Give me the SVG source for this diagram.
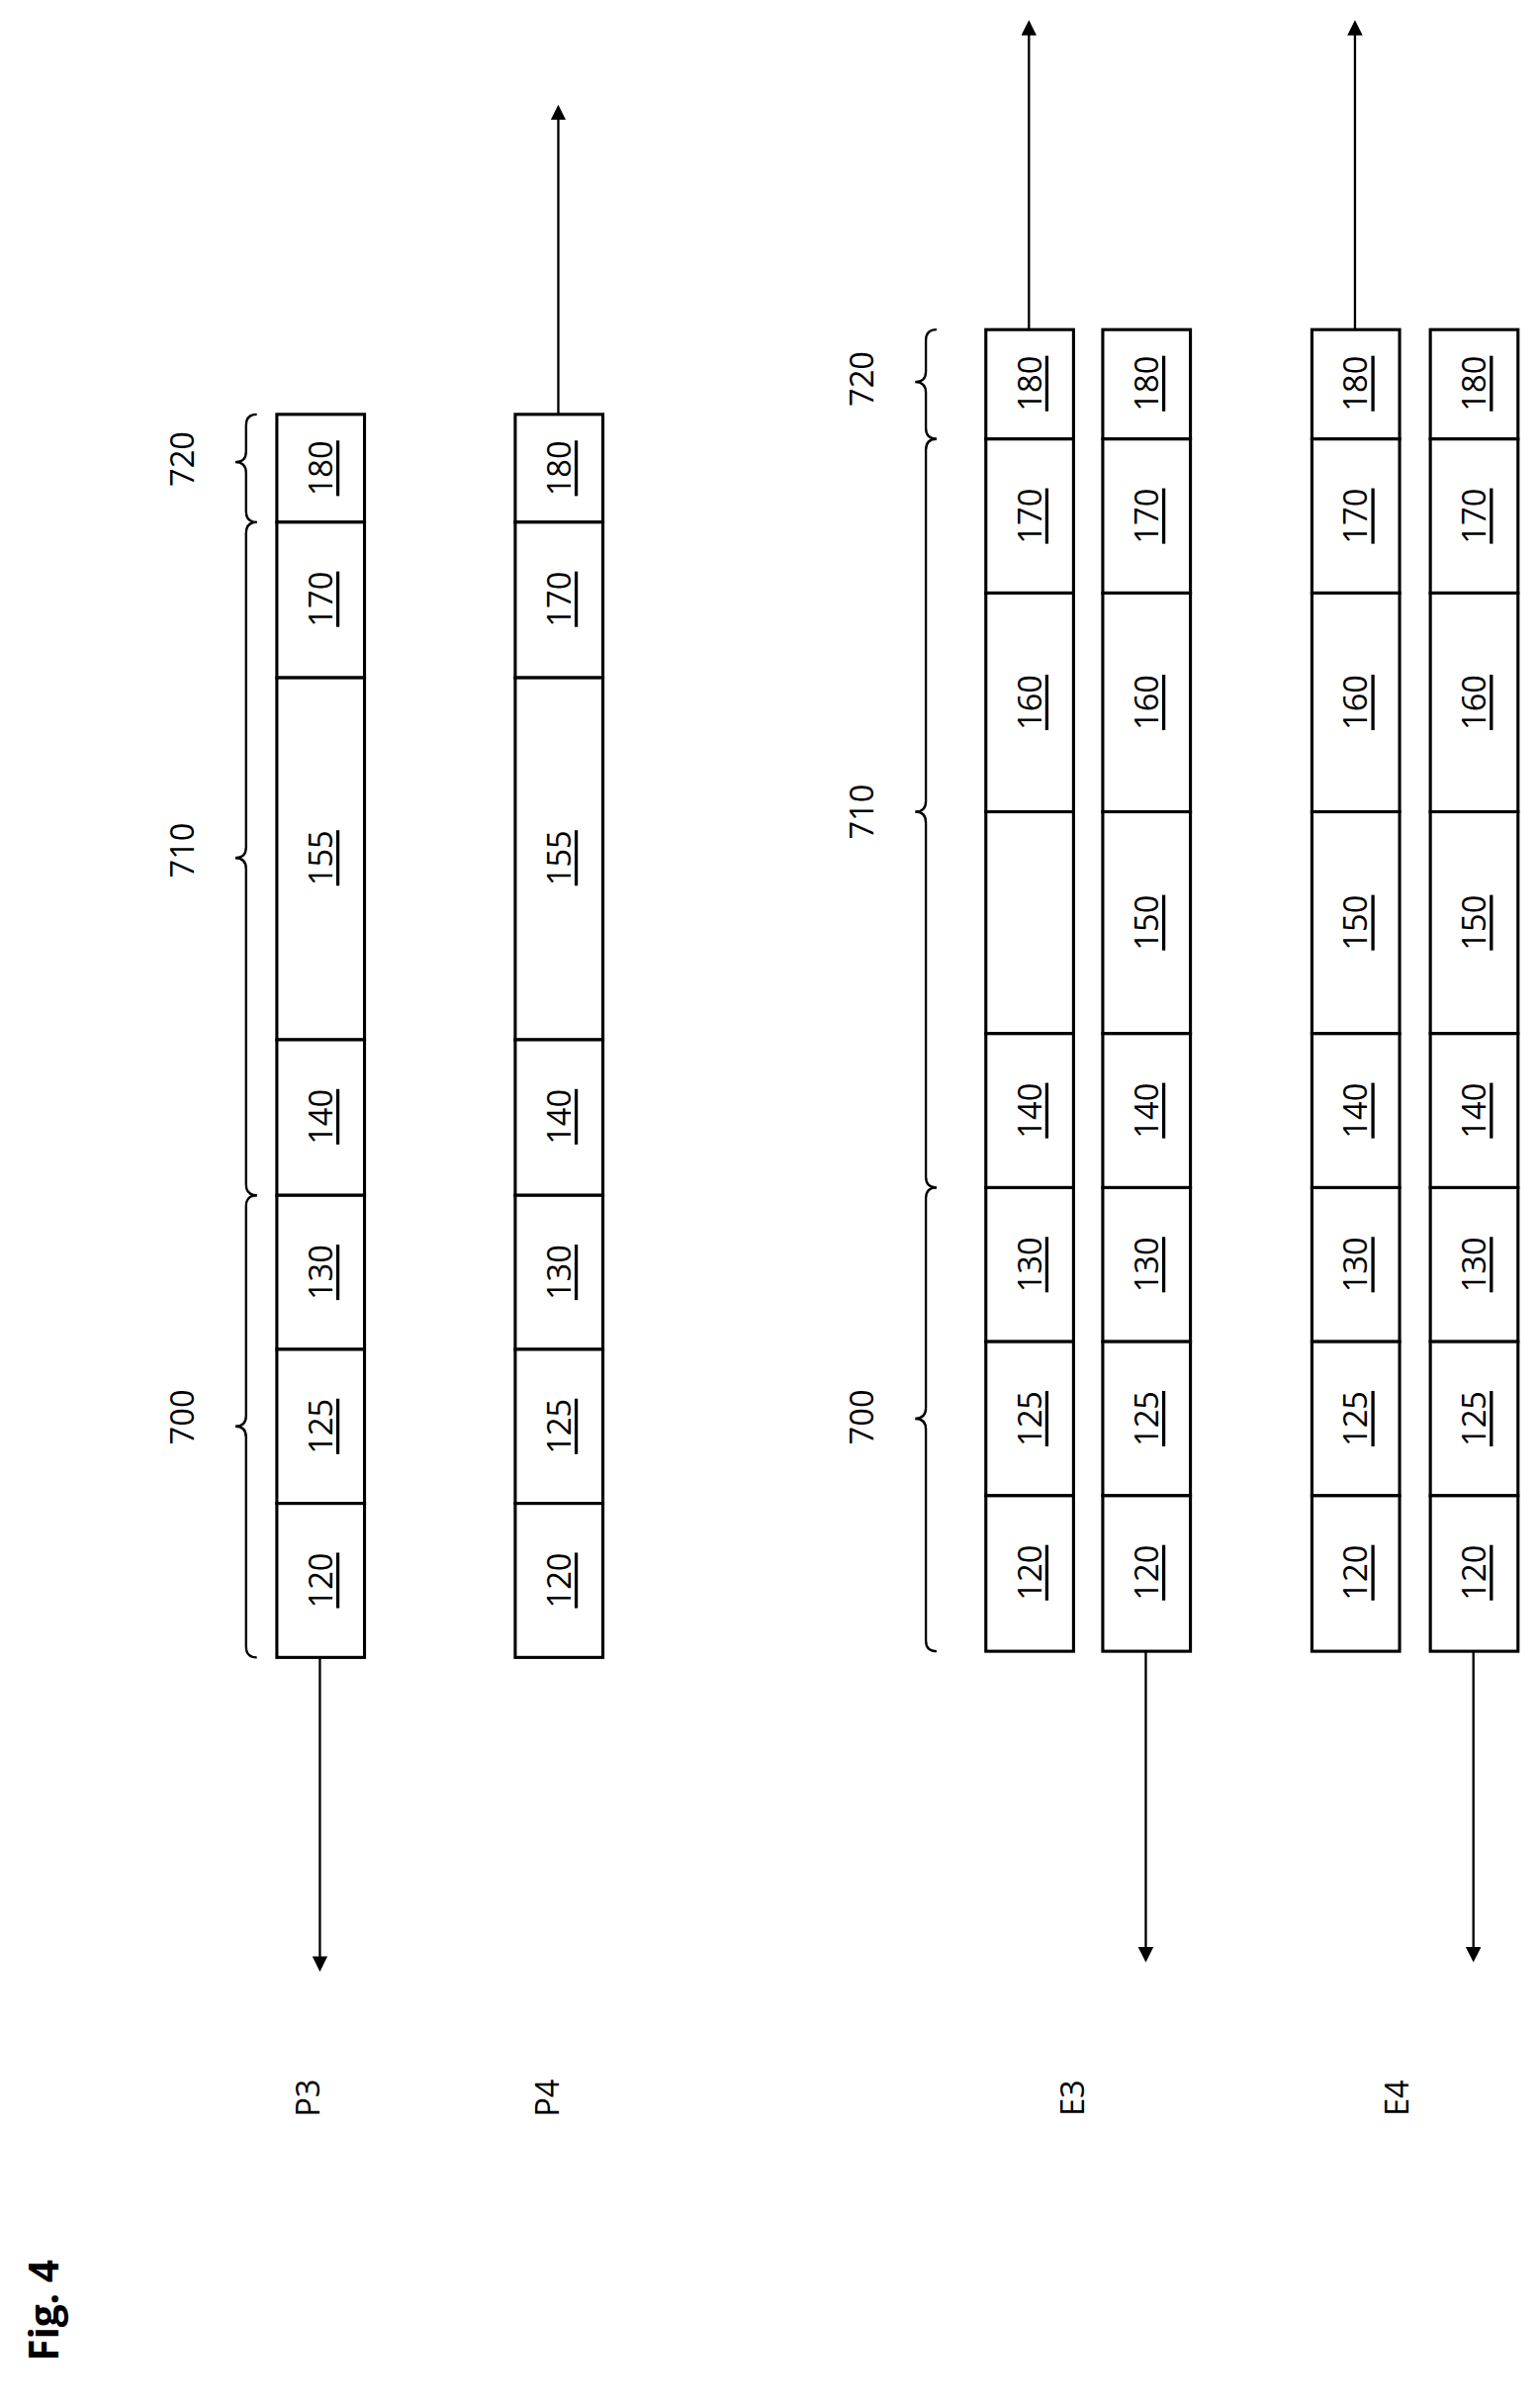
<svg xmlns="http://www.w3.org/2000/svg" width="1555" height="2434" viewBox="0 0 1555 2434">
<style>
.c{fill:#fff;stroke:#000;stroke-width:2}
.n{font-family:"Open Sans","DejaVu Sans",sans-serif;font-size:21px;text-decoration:underline;text-anchor:middle;dominant-baseline:central}
.l{font-family:"Open Sans","DejaVu Sans",sans-serif;font-size:21px;text-anchor:middle;dominant-baseline:central}
.b{fill:none;stroke:#000;stroke-width:1.5}
.a{stroke:#000;stroke-width:1.5;fill:none;marker-end:url(#ah)}
</style>
<defs>
<marker id="ah" markerWidth="10" markerHeight="10" refX="8" refY="5" orient="auto" markerUnits="userSpaceOnUse"><path d="M0,0 L10,5 L0,10 z" fill="#000"/></marker>
</defs>
<rect width="1555" height="2434" fill="#fff"/>
<g transform="scale(1.555,1.557)">
<g id="connectors">
<path class="a" d="M208,1076 V1278"/>
<path class="a" d="M363,269 V70"/>
<path class="a" d="M669,214 V15"/>
<path class="a" d="M745,1072 V1272"/>
<path class="a" d="M881,214 V15"/>
<path class="a" d="M958,1072 V1272"/>
</g>
<g id="braces">
<path class="b" d="M167,1076 Q160,1076 160,1069 L160,933 Q160,926 153,926 Q160,926 160,919 L160,783 Q160,776 167,776"/>
<path class="b" d="M167,776 Q160,776 160,769 L160,564 Q160,557 153,557 Q160,557 160,550 L160,346 Q160,339 167,339"/>
<path class="b" d="M167,339 Q160,339 160,332 L160,307 Q160,300 153,300 Q160,300 160,293 L160,276 Q160,269 167,269"/>
<path class="b" d="M609,1072 Q602,1072 602,1065 L602,928 Q602,921 595,921 Q602,921 602,914 L602,778 Q602,771 609,771"/>
<path class="b" d="M609,771 Q602,771 602,764 L602,534 Q602,527 595,527 Q602,527 602,520 L602,292 Q602,285 609,285"/>
<path class="b" d="M609,285 Q602,285 602,278 L602,255 Q602,248 595,248 Q602,248 602,241 L602,221 Q602,214 609,214"/>
<text class="l" transform="translate(118,920) rotate(-90)">700</text>
<text class="l" transform="translate(118,552) rotate(-90)">710</text>
<text class="l" transform="translate(118,298) rotate(-90)">720</text>
<text class="l" transform="translate(560,920) rotate(-90)">700</text>
<text class="l" transform="translate(560,527) rotate(-90)">710</text>
<text class="l" transform="translate(560,246) rotate(-90)">720</text>
</g>
<g id="P3">
<rect class="c" x="180" y="269" width="57" height="70"/><rect class="c" x="180" y="339" width="57" height="101"/><rect class="c" x="180" y="440" width="57" height="235"/><rect class="c" x="180" y="675" width="57" height="101"/><rect class="c" x="180" y="776" width="57" height="100"/><rect class="c" x="180" y="876" width="57" height="100"/><rect class="c" x="180" y="976" width="57" height="100"/>
<text class="n" transform="translate(208,304) rotate(-90)">180</text><text class="n" transform="translate(208,389) rotate(-90)">170</text><text class="n" transform="translate(208,557) rotate(-90)">155</text><text class="n" transform="translate(208,725) rotate(-90)">140</text><text class="n" transform="translate(208,826) rotate(-90)">130</text><text class="n" transform="translate(208,926) rotate(-90)">125</text><text class="n" transform="translate(208,1026) rotate(-90)">120</text>
<text class="l" transform="translate(200,1362) rotate(-90)">P3</text>
</g>
<g id="P4">
<rect class="c" x="335" y="269" width="57" height="70"/><rect class="c" x="335" y="339" width="57" height="101"/><rect class="c" x="335" y="440" width="57" height="235"/><rect class="c" x="335" y="675" width="57" height="101"/><rect class="c" x="335" y="776" width="57" height="100"/><rect class="c" x="335" y="876" width="57" height="100"/><rect class="c" x="335" y="976" width="57" height="100"/>
<text class="n" transform="translate(363,304) rotate(-90)">180</text><text class="n" transform="translate(363,389) rotate(-90)">170</text><text class="n" transform="translate(363,557) rotate(-90)">155</text><text class="n" transform="translate(363,725) rotate(-90)">140</text><text class="n" transform="translate(363,826) rotate(-90)">130</text><text class="n" transform="translate(363,926) rotate(-90)">125</text><text class="n" transform="translate(363,1026) rotate(-90)">120</text>
<text class="l" transform="translate(355,1362) rotate(-90)">P4</text>
</g>
<g id="E3">
<rect class="c" x="641" y="214" width="57" height="71"/><rect class="c" x="641" y="285" width="57" height="100"/><rect class="c" x="641" y="385" width="57" height="142"/><rect class="c" x="641" y="527" width="57" height="144"/><rect class="c" x="641" y="671" width="57" height="100"/><rect class="c" x="641" y="771" width="57" height="100"/><rect class="c" x="641" y="871" width="57" height="100"/><rect class="c" x="641" y="971" width="57" height="101"/>
<text class="n" transform="translate(669,249) rotate(-90)">180</text><text class="n" transform="translate(669,335) rotate(-90)">170</text><text class="n" transform="translate(669,456) rotate(-90)">160</text><text class="n" transform="translate(669,721) rotate(-90)">140</text><text class="n" transform="translate(669,821) rotate(-90)">130</text><text class="n" transform="translate(669,921) rotate(-90)">125</text><text class="n" transform="translate(669,1021) rotate(-90)">120</text>
<rect class="c" x="717" y="214" width="57" height="71"/><rect class="c" x="717" y="285" width="57" height="100"/><rect class="c" x="717" y="385" width="57" height="142"/><rect class="c" x="717" y="527" width="57" height="144"/><rect class="c" x="717" y="671" width="57" height="100"/><rect class="c" x="717" y="771" width="57" height="100"/><rect class="c" x="717" y="871" width="57" height="100"/><rect class="c" x="717" y="971" width="57" height="101"/>
<text class="n" transform="translate(745,249) rotate(-90)">180</text><text class="n" transform="translate(745,335) rotate(-90)">170</text><text class="n" transform="translate(745,456) rotate(-90)">160</text><text class="n" transform="translate(745,599) rotate(-90)">150</text><text class="n" transform="translate(745,721) rotate(-90)">140</text><text class="n" transform="translate(745,821) rotate(-90)">130</text><text class="n" transform="translate(745,921) rotate(-90)">125</text><text class="n" transform="translate(745,1021) rotate(-90)">120</text>
<text class="l" transform="translate(697,1362) rotate(-90)">E3</text>
</g>
<g id="E4">
<rect class="c" x="853" y="214" width="57" height="71"/><rect class="c" x="853" y="285" width="57" height="100"/><rect class="c" x="853" y="385" width="57" height="142"/><rect class="c" x="853" y="527" width="57" height="144"/><rect class="c" x="853" y="671" width="57" height="100"/><rect class="c" x="853" y="771" width="57" height="100"/><rect class="c" x="853" y="871" width="57" height="100"/><rect class="c" x="853" y="971" width="57" height="101"/>
<text class="n" transform="translate(881,249) rotate(-90)">180</text><text class="n" transform="translate(881,335) rotate(-90)">170</text><text class="n" transform="translate(881,456) rotate(-90)">160</text><text class="n" transform="translate(881,599) rotate(-90)">150</text><text class="n" transform="translate(881,721) rotate(-90)">140</text><text class="n" transform="translate(881,821) rotate(-90)">130</text><text class="n" transform="translate(881,921) rotate(-90)">125</text><text class="n" transform="translate(881,1021) rotate(-90)">120</text>
<rect class="c" x="930" y="214" width="57" height="71"/><rect class="c" x="930" y="285" width="57" height="100"/><rect class="c" x="930" y="385" width="57" height="142"/><rect class="c" x="930" y="527" width="57" height="144"/><rect class="c" x="930" y="671" width="57" height="100"/><rect class="c" x="930" y="771" width="57" height="100"/><rect class="c" x="930" y="871" width="57" height="100"/><rect class="c" x="930" y="971" width="57" height="101"/>
<text class="n" transform="translate(958,249) rotate(-90)">180</text><text class="n" transform="translate(958,335) rotate(-90)">170</text><text class="n" transform="translate(958,456) rotate(-90)">160</text><text class="n" transform="translate(958,599) rotate(-90)">150</text><text class="n" transform="translate(958,721) rotate(-90)">140</text><text class="n" transform="translate(958,821) rotate(-90)">130</text><text class="n" transform="translate(958,921) rotate(-90)">125</text><text class="n" transform="translate(958,1021) rotate(-90)">120</text>
<text class="l" transform="translate(908,1362) rotate(-90)">E4</text>
</g>
<text class="l" transform="translate(28,1500) rotate(-90)" style="font-weight:bold;font-size:26px">Fig. 4</text>
</g>
</svg>
